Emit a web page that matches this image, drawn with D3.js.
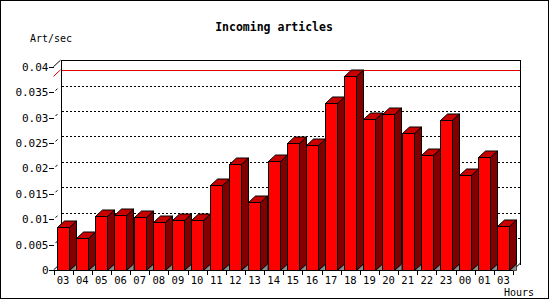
<!DOCTYPE html>
<html>
<head>
<meta charset="utf-8">
<script src="https://cdn.jsdelivr.net/npm/d3@7"></script>
<style>
  body { margin: 0; background: #fff; }
  text { font-family: "DejaVu Sans Mono", monospace; fill: #000; }
  .crisp { shape-rendering: crispEdges; }
</style>
</head>
<body>
<svg id="chart" width="550" height="300"></svg>
<script>
// hours along the x axis (as printed on the original)
const hours = ["03","04","05","06","07","08","09","10","11","12","13","14",
               "15","16","17","18","19","20","21","22","23","00","01","03"];
// articles per second for each hour
const artPerSec = [0.0084, 0.0062, 0.0106, 0.0108, 0.0104, 0.0094, 0.0098, 0.0098,
                   0.0167, 0.0208, 0.0133, 0.0215, 0.0249, 0.0245, 0.0328, 0.0381,
                   0.0297, 0.0306, 0.0269, 0.0226, 0.0295, 0.0186, 0.0222, 0.0086];
const yTicks = [0, 0.005, 0.01, 0.015, 0.02, 0.025, 0.03, 0.035, 0.04];
const yTickLabels = ["0", "0.005", "0.01", "0.015", "0.02", "0.025", "0.03", "0.035", "0.04"];

const svg = d3.select("#chart");

// plot box (front face) and 3d depth
const pLeft = 53.5, pRight = 513, pBottom = 270, pTop = 66.7;
const dx = 7, dy = 6.5;
const snap = v => Math.round(v) + 0.5;

const x = d3.scaleBand()
    .domain(d3.range(hours.length))
    .range([pLeft, pRight])
    .padding(0);

const y = d3.scaleLinear()
    .domain([0, 0.04])
    .range([pBottom, pTop]);

// outer frame
svg.append("rect")
    .attr("class", "crisp")
    .attr("x", 0.5).attr("y", 0.5)
    .attr("width", 548).attr("height", 298)
    .attr("fill", "#fff")
    .attr("stroke", "#000");

// dotted grid lines on the back wall
const gridVals = yTicks.filter(d => d > 0 && d < 0.04);
svg.selectAll(".grid")
    .data(gridVals)
    .enter().append("line")
    .attr("class", "crisp")
    .attr("x1", snap(pLeft + dx)).attr("x2", snap(pRight + dx))
    .attr("y1", d => snap(y(d) - dy))
    .attr("y2", d => snap(y(d) - dy))
    .attr("stroke", "#000")
    .attr("stroke-dasharray", "2,2");

// little depth stubs of the grid lines
svg.selectAll(".stub")
    .data(gridVals)
    .enter().append("line")
    .attr("x1", pLeft + 2).attr("x2", pLeft + 4)
    .attr("y1", d => y(d) - 1.5).attr("y2", d => y(d) - 3.5)
    .attr("stroke", "#000");

// max value line
const maxV = d3.max(artPerSec);
svg.append("line")
    .attr("x1", pLeft).attr("x2", pLeft + dx)
    .attr("y1", y(maxV)).attr("y2", y(maxV) - dy)
    .attr("stroke", "#e00000");
svg.append("line")
    .attr("class", "crisp")
    .attr("x1", snap(pLeft + dx)).attr("x2", snap(pRight + dx))
    .attr("y1", snap(y(maxV) - dy)).attr("y2", snap(y(maxV) - dy))
    .attr("stroke", "#e00000");

// back wall outline
svg.append("path")
    .attr("class", "crisp")
    .attr("d", `M${snap(pLeft + dx)},${snap(pBottom - dy)}L${snap(pLeft + dx)},${snap(pTop - dy)}` +
               `L${snap(pRight + dx)},${snap(pTop - dy)}L${snap(pRight + dx)},${snap(pBottom - dy)}`)
    .attr("fill", "none")
    .attr("stroke", "#000");
svg.append("path")
    .attr("d", `M${pLeft},${pTop}L${pLeft + dx},${pTop - dy}` +
               `M${pRight + dx},${pBottom - dy}L${pRight},${pBottom}` +
               `M${pLeft + dx},${pBottom - dy}L${pLeft},${pBottom}`)
    .attr("fill", "none")
    .attr("stroke", "#000");

// bars
const bw = x.bandwidth() * 0.615;
const bars = svg.selectAll(".bar")
    .data(artPerSec)
    .enter().append("g")
    .attr("class", "bar");

bars.each(function(v, i) {
  const g = d3.select(this);
  const x0 = Math.round(x(i) + x.bandwidth() * 0.18) + 0.5, x1 = Math.round(x0 + bw) + 0.5;
  const yt = snap(y(v));
  const yb = snap(pBottom);
  // floor shadow
  g.append("path")
    .attr("d", `M${x1},${yb}L${x1 + dx},${yb - dy}L${x1 + dx},${yb}Z`)
    .attr("fill", "#8c8c8c").attr("stroke", "#000").attr("stroke-width", 0.6);
  // side
  g.append("path")
    .attr("d", `M${x1},${yt}L${x1 + dx},${yt - dy}L${x1 + dx},${yb - dy}L${x1},${yb}Z`)
    .attr("fill", "#800000").attr("stroke", "#000");
  // top
  g.append("path")
    .attr("d", `M${x0},${yt}L${x0 + dx},${yt - dy}L${x1 + dx},${yt - dy}L${x1},${yt}Z`)
    .attr("fill", "#c80000").attr("stroke", "#000");
  // front
  g.append("rect")
    .attr("class", "crisp")
    .attr("x", x0).attr("y", yt)
    .attr("width", x1 - x0).attr("height", yb - yt)
    .attr("fill", "#ff0000").attr("stroke", "#000");
});

// x axis
svg.append("line")
    .attr("class", "crisp")
    .attr("x1", pLeft).attr("x2", pRight)
    .attr("y1", snap(pBottom)).attr("y2", snap(pBottom))
    .attr("stroke", "#000");

svg.selectAll(".xtick")
    .data(d3.range(hours.length + 1))
    .enter().append("line")
    .attr("class", "crisp")
    .attr("x1", i => snap(pLeft + i * x.bandwidth()))
    .attr("x2", i => snap(pLeft + i * x.bandwidth()))
    .attr("y1", snap(pBottom)).attr("y2", pBottom + 5)
    .attr("stroke", "#000");

svg.selectAll(".xlabel")
    .data(hours)
    .enter().append("text")
    .attr("x", (d, i) => x(i) + x.bandwidth() / 2)
    .attr("y", pBottom + 14)
    .attr("text-anchor", "middle")
    .style("font-size", "10.5px")
    .text(d => d);

// y ticks and labels
svg.selectAll(".ytick")
    .data(yTicks)
    .enter().append("line")
    .attr("class", "crisp")
    .attr("x1", pLeft - 4.5).attr("x2", pLeft)
    .attr("y1", d => snap(y(d))).attr("y2", d => snap(y(d)))
    .attr("stroke", "#000");

svg.selectAll(".ylabel")
    .data(yTicks)
    .enter().append("text")
    .attr("x", pLeft - 5)
    .attr("y", d => y(d) + 4)
    .attr("text-anchor", "end")
    .style("font-size", "11px")
    .text((d, i) => yTickLabels[i]);

// titles
svg.append("text")
    .attr("x", 274).attr("y", 31)
    .attr("text-anchor", "middle")
    .style("font-size", "11.5px")
    .style("font-weight", "bold")
    .text("Incoming articles");

svg.append("text")
    .attr("x", 30).attr("y", 42)
    .style("font-size", "10px")
    .text("Art/sec");

svg.append("text")
    .attr("x", 534).attr("y", 296)
    .attr("text-anchor", "end")
    .style("font-size", "10px")
    .text("Hours");
</script>
</body>
</html>
